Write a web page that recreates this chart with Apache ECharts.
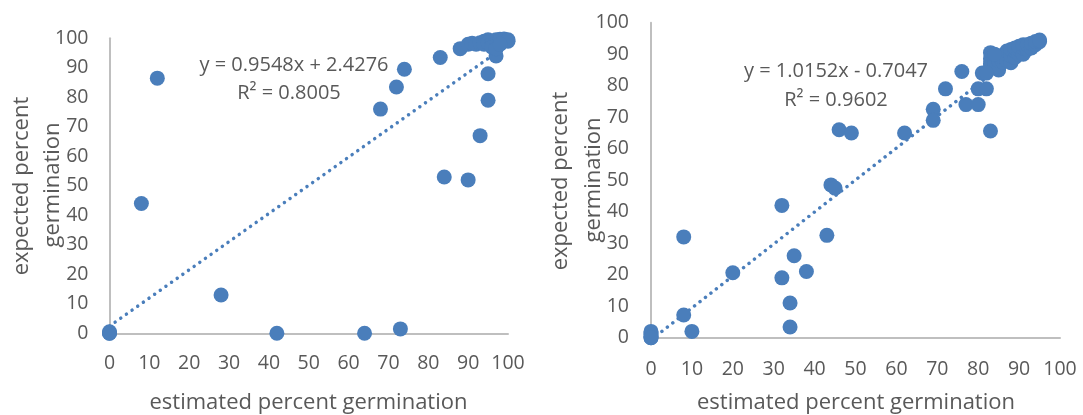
<!DOCTYPE html>
<html>
<head>
<meta charset="utf-8">
<script src="https://cdn.jsdelivr.net/npm/echarts@6/dist/echarts.min.js"></script>
<style>
html,body{margin:0;padding:0;background:#fff;}
#chart{width:1083px;height:415px;}
</style>
</head>
<body>
<div id="chart"></div>
<script>
// ---- data ----
var xTicksMin = 0, xTicksMax = 100, tickStep = 10;

var leftPoints = [
  [0,0],[0,0],[0,0.5],[8,44],[12,86.5],[28,13],[42,0],[64,0],[73,1.5],
  [68,76],[72,83.5],[74,89.5],[83,93.5],[84,53],[88,96.5],[90,52],[93,67],
  [95,79],[95,88],[97,94],
  [90,98],[91,98.3],[92,98],[93,98.5],[94,99],[94,98],[95,99.5],[95,98.5],
  [96,99],[96,98],[97,99.5],[97,98.5],[98,99],[98,99.7],[99,99.3],[99,99.8],
  [100,99],[100,99.5],[96,97],[97,96.5],[98,98]
];
var leftSlope = 0.9548, leftIntercept = 2.4276, leftR2 = '0.8005';
var leftTrendX = [0, 100];

var rightPoints = [
  [0,0],[0,0.5],[0,1],[0,1.5],[0,2],[0,0],
  [8,32],[8,7.2],[10,2],[20,20.6],[32,42],[32,19],[34,11],[34,3.4],[35,26],
  [38,21],[43,32.5],[44,48.5],[45,47.5],[46,66],[49,65],[62,65],[69,72.5],
  [69,69],[72,79],[76,84.5],[77,74],[80,74],[80,79],[82,79],[81,84],[83,65.6],
  [83,90.5],[83,88.5],[83,87],[83,86],[84,88],[84,86.5],[85,85],[85,88],[85,89.5],
  [86,87.5],[86,89],[87,88],[87,90],[87,91],[88,87.3],[88,89.5],[88,91.5],
  [89,89],[89,91],[89,92],[90,90],[90,91.5],[90,92.5],[91,90],[91,92],[91,93],
  [92,91.5],[92,93],[93,92],[93,93.5],[94,93],[94,94],[95,94],[95,94.5],
  [82,84],[84,90]
];
var rightSlope = 1.0152, rightIntercept = -0.7047, rightR2 = '0.9602';
var rightTrendX = [0, 95];

var xTitle = 'estimated percent germination';
var yTitle1 = 'expected percent';
var yTitle2 = 'germination';

// ---- styling ----
var blue = '#4a7ebb';
var txt = '#595959';
var axisCol = '#bfbfbf';
var FONT = 'Open Sans';

function trend(slope, icpt, xs) {
  return xs.map(function (x) { return [x, slope * x + icpt]; });
}
function eqText(slope, icpt) {
  var sign = icpt < 0 ? ' - ' : ' + ';
  return 'y = ' + slope.toFixed(4) + 'x' + sign + Math.abs(icpt).toFixed(4);
}

function mkAxis(gi, labelMargin) {
  return {
    type: 'value', gridIndex: gi, min: xTicksMin, max: xTicksMax, interval: tickStep,
    splitLine: {show: false},
    axisTick: {show: false},
    axisLine: {show: true, lineStyle: {color: axisCol, width: 2}},
    axisLabel: {color: txt, fontFamily: FONT, fontSize: 19.5, margin: labelMargin}
  };
}

var chart = echarts.init(document.getElementById('chart'), null, {renderer: 'canvas'});

var dotted = {color: blue, width: 3.5, type: [0.01, 6.9], cap: 'round'};

function txtEl(x, y, s, size, rot) {
  return {
    type: 'text', x: x, y: y, rotation: rot || 0,
    style: {text: s, fill: txt, font: size + 'px "' + FONT + '"', align: 'center', verticalAlign: 'middle'}
  };
}

chart.setOption({
  animation: false,
  grid: [
    {left: 109.5, top: 38.3, width: 398.5, height: 295},
    {left: 651, top: 22.7, width: 409, height: 315}
  ],
  xAxis: [mkAxis(0, 20), mkAxis(1, 22)],
  yAxis: [mkAxis(0, 21), mkAxis(1, 22)],
  series: [
    {type: 'line', xAxisIndex: 0, yAxisIndex: 0, data: trend(leftSlope, leftIntercept, leftTrendX),
     symbol: 'none', lineStyle: dotted, z: 1, clip: false},
    {type: 'scatter', xAxisIndex: 0, yAxisIndex: 0, data: leftPoints, symbolSize: 15,
     itemStyle: {color: blue, opacity: 1}, z: 2, clip: false},
    {type: 'line', xAxisIndex: 1, yAxisIndex: 1, data: trend(rightSlope, rightIntercept, rightTrendX),
     symbol: 'none', lineStyle: dotted, z: 1, clip: false},
    {type: 'scatter', xAxisIndex: 1, yAxisIndex: 1, data: rightPoints, symbolSize: 15,
     itemStyle: {color: blue, opacity: 1}, z: 2, clip: false}
  ],
  graphic: [
    txtEl(308.5, 403, xTitle, 22),
    txtEl(21.5, 186, yTitle1, 22, Math.PI / 2),
    txtEl(52.5, 185, yTitle2, 22, Math.PI / 2),
    txtEl(856, 402.7, xTitle, 22),
    txtEl(561, 181, yTitle1, 22, Math.PI / 2),
    txtEl(594, 180, yTitle2, 22, Math.PI / 2),
    txtEl(294, 65, eqText(leftSlope, leftIntercept), 20),
    txtEl(289, 93.3, 'R\u00b2 = ' + leftR2, 20),
    txtEl(836, 71, eqText(rightSlope, rightIntercept), 20),
    txtEl(836, 100, 'R\u00b2 = ' + rightR2, 20)
  ]
});
</script>
</body>
</html>
